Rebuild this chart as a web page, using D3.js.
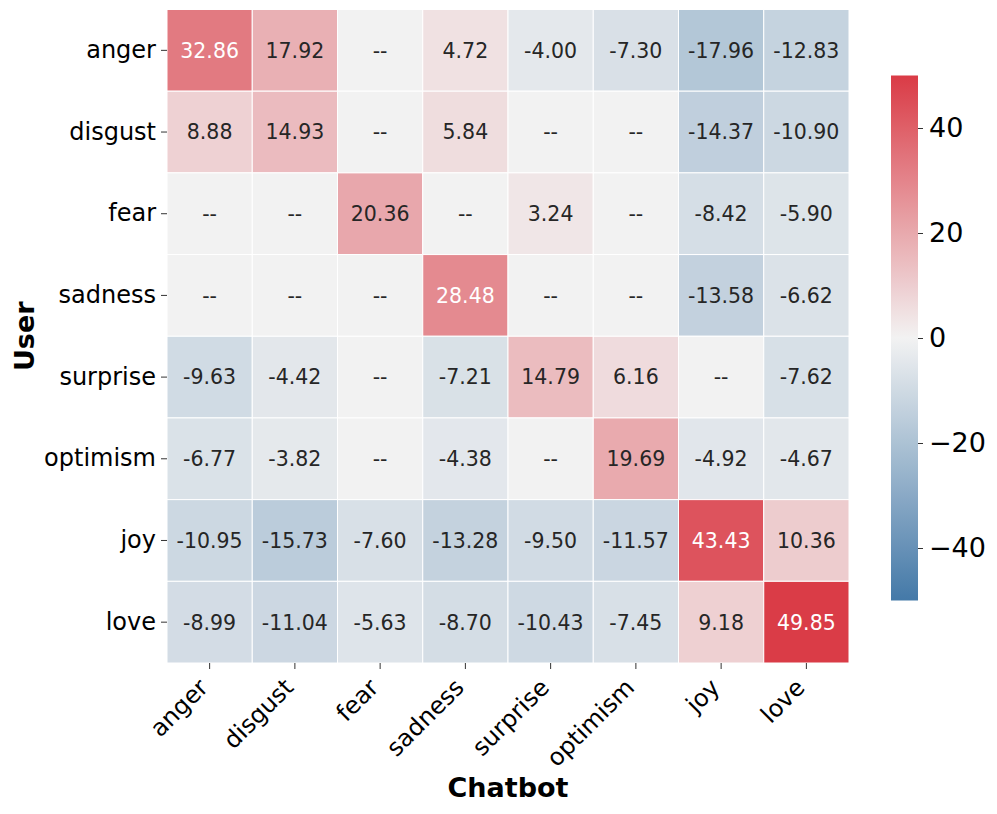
<!DOCTYPE html>
<html>
<head>
<meta charset="utf-8">
<script src="https://cdn.jsdelivr.net/npm/d3@7"></script>
<style>
  body { margin: 0; background: #fff; }
  text { font-family: "DejaVu Sans", sans-serif; }
</style>
</head>
<body>
<div id="chart"></div>
<script>
// emotions, user on rows, chatbot on columns
var userLabels = ["anger", "disgust", "fear", "sadness", "surprise", "optimism", "joy", "love"]
var botLabels = ["anger", "disgust", "fear", "sadness", "surprise", "optimism", "joy", "love"]
// null = not significant, shown as "--"
var rowAnger    = [32.86, 17.92, null, 4.72, -4.00, -7.30, -17.96, -12.83]
var rowDisgust  = [8.88, 14.93, null, 5.84, null, null, -14.37, -10.90]
var rowFear     = [null, null, 20.36, null, 3.24, null, -8.42, -5.90]
var rowSadness  = [null, null, null, 28.48, null, null, -13.58, -6.62]
var rowSurprise = [-9.63, -4.42, null, -7.21, 14.79, 6.16, null, -7.62]
var rowOptimism = [-6.77, -3.82, null, -4.38, null, 19.69, -4.92, -4.67]
var rowJoy      = [-10.95, -15.73, -7.60, -13.28, -9.50, -11.57, 43.43, 10.36]
var rowLove     = [-8.99, -11.04, -5.63, -8.70, -10.43, -7.45, 9.18, 49.85]
var colorTicks = [-40, -20, 0, 20, 40]

var rows = [rowAnger, rowDisgust, rowFear, rowSadness, rowSurprise, rowOptimism, rowJoy, rowLove]

var width = 997, height = 814
var mLeft = 167, mRight = 849, mTop = 9.5, mBottom = 663

var svg = d3.select("#chart").append("svg")
	.attr("width", width)
	.attr("height", height)

var x = d3.scaleBand().domain(botLabels).range([mLeft, mRight])
var y = d3.scaleBand().domain(userLabels).range([mTop, mBottom])

var color = d3.scaleLinear()
	.domain([-50, 0, 50])
	.range(["#4479a8", "#f2f2f2", "#da3b46"])
	.clamp(true)

function lum(c) {
	var rgb = d3.rgb(c)
	var f = function(v) { v = v / 255; return v <= 0.03928 ? v / 12.92 : Math.pow((v + 0.055) / 1.055, 2.4) }
	return 0.2126 * f(rgb.r) + 0.7152 * f(rgb.g) + 0.0722 * f(rgb.b)
}

var cells = []
rows.forEach(function(r, i) {
	r.forEach(function(v, j) {
		cells.push({ user: userLabels[i], bot: botLabels[j], value: v })
	})
})

var g = svg.append("g")

g.selectAll("rect")
	.data(cells)
	.enter()
	.append("rect")
	.attr("x", function(d) { return x(d.bot) })
	.attr("y", function(d) { return y(d.user) })
	.attr("width", x.bandwidth())
	.attr("height", y.bandwidth())
	.attr("fill", function(d) { return color(d.value == null ? 0 : d.value) })
	.attr("stroke", "#fff")
	.attr("stroke-width", 1)

g.selectAll("text.annot")
	.data(cells)
	.enter()
	.append("text")
	.attr("class", "annot")
	.attr("x", function(d) { return x(d.bot) + x.bandwidth() / 2 })
	.attr("y", function(d) { return y(d.user) + y.bandwidth() / 2 })
	.attr("dy", "0.36em")
	.attr("text-anchor", "middle")
	.style("font-size", "20.5px")
	.attr("fill", function(d) {
		var c = color(d.value == null ? 0 : d.value)
		return lum(c) > 0.408 ? "#262626" : "#ffffff"
	})
	.text(function(d) { return d.value == null ? "--" : d.value.toFixed(2) })

// y axis
var yAxis = svg.append("g")
	.attr("transform", "translate(" + mLeft + ",0)")
	.call(d3.axisLeft(y).tickSize(6).tickPadding(5))
yAxis.select(".domain").remove()
yAxis.selectAll("line").attr("stroke", "#333")
yAxis.selectAll("text").style("font-size", "24px").attr("fill", "#000")

// x axis
var xAxis = svg.append("g")
	.attr("transform", "translate(0," + mBottom + ")")
	.call(d3.axisBottom(x).tickSize(6))
xAxis.select(".domain").remove()
xAxis.selectAll("line").attr("stroke", "#333")
xAxis.selectAll("text")
	.style("font-size", "24px")
	.attr("fill", "#000")
	.attr("text-anchor", "end")
	.attr("y", 0)
	.attr("dy", "0.35em")
	.attr("transform", "translate(-6,20) rotate(-45)")

svg.append("text")
	.attr("x", (mLeft + mRight) / 2)
	.attr("y", 797)
	.attr("text-anchor", "middle")
	.style("font-size", "27px")
	.style("font-weight", "bold")
	.text("Chatbot")

svg.append("text")
	.attr("transform", "translate(34," + (mTop + mBottom) / 2 + ") rotate(-90)")
	.attr("text-anchor", "middle")
	.style("font-size", "27px")
	.style("font-weight", "bold")
	.text("User")

// colorbar
var cbX = 891, cbW = 27, cbTop = 75.5, cbBottom = 600.5
var cbScale = d3.scaleLinear().domain([-50, 50]).range([cbBottom, cbTop])

var defs = svg.append("defs")
var grad = defs.append("linearGradient")
	.attr("id", "cbgrad")
	.attr("x1", 0).attr("y1", 1).attr("x2", 0).attr("y2", 0)
grad.selectAll("stop")
	.data(d3.range(-50, 51, 5))
	.enter()
	.append("stop")
	.attr("offset", function(d) { return (d + 50) / 100 })
	.attr("stop-color", function(d) { return color(d) })

svg.append("rect")
	.attr("x", cbX)
	.attr("y", cbTop)
	.attr("width", cbW)
	.attr("height", cbBottom - cbTop)
	.attr("fill", "url(#cbgrad)")

var cbAxis = svg.append("g")
	.attr("transform", "translate(" + (cbX + cbW) + ",0)")
	.call(d3.axisRight(cbScale)
		.tickValues(colorTicks)
		.tickSize(5)
		.tickPadding(6)
		.tickFormat(function(d) { return d < 0 ? "\u2212" + Math.abs(d) : d }))
cbAxis.select(".domain").remove()
cbAxis.selectAll("line").attr("stroke", "#333")
cbAxis.selectAll("text").style("font-size", "27px").attr("fill", "#000")
</script>
</body>
</html>
